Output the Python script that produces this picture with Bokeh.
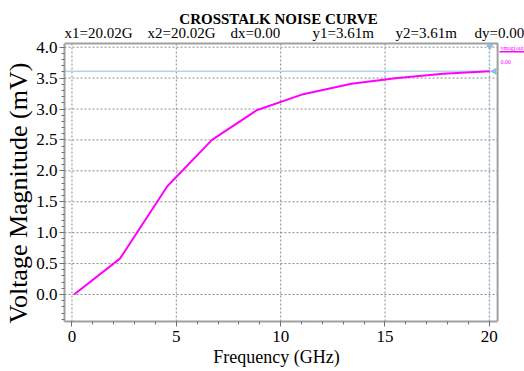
from bokeh.plotting import figure
from bokeh.models import (Range1d, SingleIntervalTicker, PrintfTickFormatter, Label,
                          BoxAnnotation, Title)
from bokeh.embed import file_html
from bokeh.resources import INLINE

# ---- data ----
freq_ghz = [0.1, 2.3, 4.57, 6.71, 8.85, 11.08, 13.39, 15.6, 17.8, 20.02]
vmag_mv = [0.0, 0.58, 1.75, 2.50, 2.98, 3.24, 3.41, 3.50, 3.57, 3.61]
x_major = [0, 5, 10, 15, 20]
y_major = [0.0, 0.5, 1.0, 1.5, 2.0, 2.5, 3.0, 3.5, 4.0]
cursor_x = 20.02
cursor_y = 3.61
title_text = "CROSSTALK NOISE CURVE"
cursor_texts = ["x1=20.02G", "x2=20.02G", "dx=0.00", "y1=3.61m", "y2=3.61m", "dy=0.00"]
cursor_offsets = [0, 83, 166, 248, 331, 410]
legend_name = "vmag(out)"
legend_value = "0.00"
x_label = "Frequency (GHz)"
y_label = "Voltage Magnitude (mV)"

FONT = "Liberation Serif, Times New Roman, serif"
NBSP = "\u00a0"
# plot box (visible frame) and full drawing area
X0, XB, XE = -0.358, 20.396, 21.685
Y0, YB, YE = -0.437, 4.06, 4.755
BOX = "#a0a0a0"
GRID = "#8a8a8a"
CURSOR = "#8fbde3"

p = figure(width=524, height=371, output_backend="svg", toolbar_location=None,
           x_range=Range1d(X0, XE), y_range=Range1d(Y0, YE),
           min_border_left=62, min_border_right=0, min_border_top=0, min_border_bottom=50)
p.title.visible = False
p.background_fill_color = "white"
p.border_fill_color = "white"
p.outline_line_color = None
p.xgrid.visible = False
p.ygrid.visible = False

# axes
p.xaxis.ticker = SingleIntervalTicker(interval=5, num_minor_ticks=5)
p.yaxis.ticker = SingleIntervalTicker(interval=0.5, num_minor_ticks=5)
p.yaxis.formatter = PrintfTickFormatter(format="%.1f")
p.xaxis.bounds = (X0, XB)
p.yaxis.bounds = (Y0, YB)
for ax in (p.xaxis, p.yaxis):
    ax.axis_line_color = BOX
    ax.axis_line_width = 2
    ax.major_tick_line_color = "#707070"
    ax.minor_tick_line_color = "#707070"
    ax.major_tick_in = 0
    ax.minor_tick_in = 0
    ax.major_tick_out = 5
    ax.minor_tick_out = 3
    ax.major_label_text_font = FONT
    ax.major_label_text_font_size = "17px"
    ax.major_label_text_color = "black"
    ax.axis_label_text_font = FONT
    ax.axis_label_text_font_style = "normal"
    ax.axis_label_text_color = "black"
# trailing no-break spaces centre the label on the plot box rather than the drawing area
p.xaxis.axis_label = x_label + NBSP * 8
p.xaxis.axis_label_text_font_size = "18px"
p.xaxis.major_label_standoff = 4
p.yaxis.major_label_standoff = 2
p.xaxis.axis_label_standoff = 2

# y axis title, starting at the bottom of the plot box
p.add_layout(Title(text=y_label, align="left", offset=-2, standoff=2,
                   text_font=FONT, text_font_size="26px", text_font_style="normal",
                   text_color="black"), "left")

# grid (dotted) inside the plot box
p.segment(x0=x_major, y0=[Y0] * len(x_major), x1=x_major, y1=[YB] * len(x_major),
          line_color=GRID, line_dash="2 2", line_width=1)
p.segment(x0=[X0] * len(y_major), y0=y_major, x1=[XB] * len(y_major), y1=y_major,
          line_color=GRID, line_dash="2 2", line_width=1)

# top and right edges of the plot box
p.line([X0, XB, XB], [YB, YB, Y0], line_color=BOX, line_width=2)

# cursor lines
p.line([X0, XB], [cursor_y, cursor_y], line_color="#b3d4ee", line_width=1.5)
p.line([cursor_x, cursor_x], [Y0, YB], line_color=CURSOR, line_width=1, line_dash="2 2")

# curve
p.line(freq_ghz, vmag_mv, line_color="#ff00ff", line_width=2)

# cursor markers
p.scatter([cursor_x], [YB - 0.05], marker="inverted_triangle", size=6, color=CURSOR)
p.scatter([XB - 0.15], [cursor_y], marker="triangle", angle=1.5708, size=6, color=CURSOR)

# title and cursor row (screen units relative to frame bottom-left)
p.add_layout(Label(x=214, y=303, x_units="screen", y_units="screen", text=title_text,
                   text_font=FONT, text_font_style="bold", text_font_size="15px",
                   text_align="center", text_baseline="alphabetic", text_color="black"))
for t, off in zip(cursor_texts, cursor_offsets):
    p.add_layout(Label(x=off, y=289, x_units="screen", y_units="screen", text=t,
                       text_font=FONT, text_font_size="15px", text_align="left",
                       text_baseline="alphabetic", text_color="black"))

# legend at top right
p.add_layout(Label(x=436, y=274, x_units="screen", y_units="screen", text=legend_name,
                   text_font=FONT, text_font_size="6px", text_color="#ff00ff",
                   text_baseline="alphabetic"))
p.add_layout(BoxAnnotation(left=435, right=460, bottom=269, top=270.5,
                           left_units="screen", right_units="screen",
                           bottom_units="screen", top_units="screen",
                           fill_color="#ff00ff", fill_alpha=1, line_color=None))
p.add_layout(Label(x=436, y=260, x_units="screen", y_units="screen", text=legend_value,
                   text_font=FONT, text_font_size="6px", text_color="#ff00ff",
                   text_baseline="alphabetic"))

open("out.html", "w").write(file_html(p, INLINE))
